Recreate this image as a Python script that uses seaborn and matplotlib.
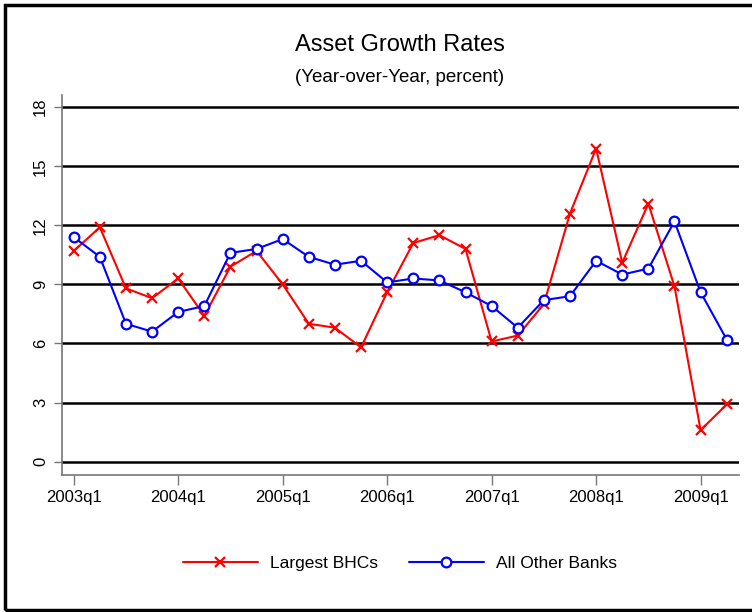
import numpy as np
import pandas as pd
import matplotlib
matplotlib.use('Agg')
import matplotlib.pyplot as plt
import seaborn as sns

# Quarterly data, 2003q1 - 2009q2
quarters = [f'{y}q{q}' for y in range(2003, 2010) for q in range(1, 5)][:26]
largest_bhcs = [10.7, 11.9, 8.8, 8.3, 9.3, 7.4, 9.9, 10.7,
                9.0, 7.0, 6.8, 5.8, 8.6, 11.1, 11.5, 10.8,
                6.1, 6.4, 8.0, 12.6, 15.9, 10.1, 13.1, 8.9,
                1.6, 2.9]
other_banks = [11.4, 10.4, 7.0, 6.6, 7.6, 7.9, 10.6, 10.8,
               11.3, 10.4, 10.0, 10.2, 9.1, 9.3, 9.2, 8.6,
               7.9, 6.8, 8.2, 8.4, 10.2, 9.5, 9.8, 12.2,
               8.6, 6.2]
tick_labels = ['2003q1', '2004q1', '2005q1', '2006q1', '2007q1', '2008q1', '2009q1']
y_ticks = [0, 3, 6, 9, 12, 15, 18]

df = pd.DataFrame({
    'idx': np.arange(len(quarters)),
    'quarter': quarters,
    'Largest BHCs': largest_bhcs,
    'All Other Banks': other_banks,
})

sns.set_theme(style='white')
plt.rcParams['font.family'] = ['Liberation Sans', 'DejaVu Sans']
plt.rcParams['text.color'] = 'black'
plt.rcParams['xtick.color'] = 'black'
plt.rcParams['ytick.color'] = 'black'

fig = plt.figure(figsize=(7.52, 6.12), dpi=100)
ax = fig.add_axes([0.0824, 0.2239, 0.9003, 0.6209])

# horizontal grid lines
for yv in y_ticks:
    ax.axhline(yv, color='black', lw=1.8, zorder=1)

sns.lineplot(data=df, x='idx', y='Largest BHCs', ax=ax, color='red', lw=1.5,
             marker='x', markersize=7, markeredgecolor='red', markeredgewidth=1.6,
             label='Largest BHCs', zorder=3)
sns.lineplot(data=df, x='idx', y='All Other Banks', ax=ax, color='blue', lw=1.5,
             marker='o', markersize=7, markerfacecolor='white', markeredgecolor='blue',
             markeredgewidth=1.6, label='All Other Banks', zorder=4)

ax.set_xlim(-0.45, 25.47)
ax.set_ylim(-0.68, 18.62)
ax.set_xticks(df['idx'][::4])
ax.set_xticklabels(tick_labels, fontsize=12)
ax.set_yticks(y_ticks)
ax.set_yticklabels([str(v) for v in y_ticks], fontsize=12, rotation=90, va='center')
ax.set_xlabel('')
ax.set_ylabel('')
ax.tick_params(axis='x', length=7, width=1, color='#777777', labelcolor='black', bottom=True, pad=4)
ax.tick_params(axis='y', length=6, width=1, color='#777777', labelcolor='black', left=True, pad=4)

for s in ['top', 'right']:
    ax.spines[s].set_visible(False)
for s in ['left', 'bottom']:
    ax.spines[s].set_color('#777777')
    ax.spines[s].set_linewidth(1.2)

ax.get_legend().remove()
handles, labels = ax.get_legend_handles_labels()
fig.legend(handles, labels, loc='center', bbox_to_anchor=(400 / 752, 1 - 563 / 612),
           ncol=2, frameon=False, fontsize=12.5, handlelength=4.3, columnspacing=1.8,
           handletextpad=0.7)

fig.text(400 / 752, 1 - 45 / 612, 'Asset Growth Rates', ha='center', va='center', fontsize=17)
fig.text(400 / 752, 1 - 77 / 612, '(Year-over-Year, percent)', ha='center', va='center', fontsize=13.5)

# outer border
border = plt.Rectangle((5 / 752, 2 / 612), 1.2, 1 - 7 / 612, transform=fig.transFigure,
                       fill=False, edgecolor='black', lw=2.5)
fig.patches.append(border)

fig.savefig('out.png', dpi=100)
